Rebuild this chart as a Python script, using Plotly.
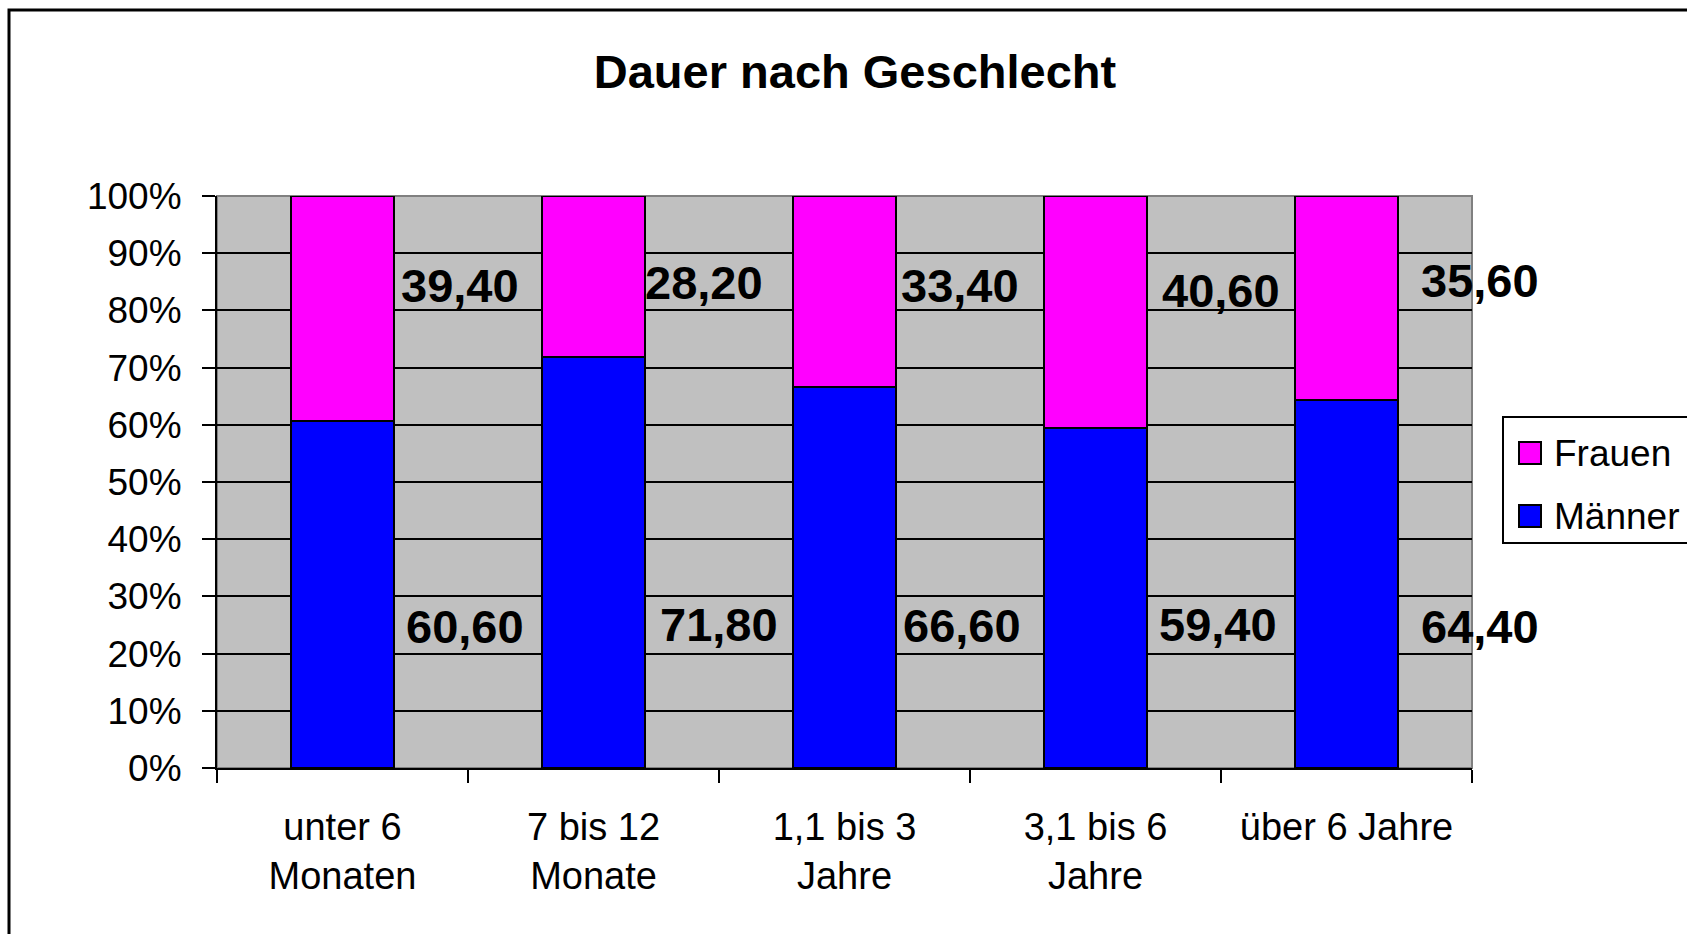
import plotly.graph_objects as go

categories = ["unter 6<br>Monaten", "7 bis 12<br>Monate", "1,1 bis 3<br>Jahre", "3,1 bis 6<br>Jahre", "über 6 Jahre"]
maenner = [60.6, 71.8, 66.6, 59.4, 64.4]
frauen = [39.4, 28.2, 33.4, 40.6, 35.6]
tick_vals = [0, 10, 20, 30, 40, 50, 60, 70, 80, 90, 100]
tick_text = [f"{v}%" for v in tick_vals]

# placement of the hand-positioned data labels (category offset, axis height)
frauen_lbl_dx = [0.47, 0.44, 0.46, 0.50, 0.53]
frauen_lbl_y = [84.4, 84.9, 84.4, 83.4, 85.2]
maenner_lbl_dx = [0.49, 0.50, 0.47, 0.49, 0.53]
maenner_lbl_y = [24.7, 25.1, 24.9, 25.1, 24.7]

W, H = 1687, 934
L, R, T, B = 217, 1472, 196, 768
pw, ph = R - L, B - T

def px_x(p):
    return (p - L) / pw

def px_y(p):
    return (B - p) / ph

FONT = "Liberation Sans, Arial, sans-serif"
n = len(categories)

fig = go.Figure()
fig.add_trace(go.Bar(x=categories, y=maenner, name="Männer", marker=dict(color="#0000FF", line=dict(color="black", width=2)), showlegend=False))
fig.add_trace(go.Bar(x=categories, y=frauen, name="Frauen", marker=dict(color="#FF00FF", line=dict(color="black", width=2)), showlegend=False))

def fmt(v):
    return f"{v:.2f}".replace(".", ",")

annotations = []
for i, (m, f) in enumerate(zip(maenner, frauen)):
    annotations.append(dict(x=(i + 0.5 + frauen_lbl_dx[i]) / n, y=frauen_lbl_y[i], xref="paper", yref="y", text=fmt(f), showarrow=False,
                            font=dict(family=FONT, size=47, color="black", weight="bold"), xanchor="center", yanchor="middle"))
    annotations.append(dict(x=(i + 0.5 + maenner_lbl_dx[i]) / n, y=maenner_lbl_y[i], xref="paper", yref="y", text=fmt(m), showarrow=False,
                            font=dict(family=FONT, size=47, color="black", weight="bold"), xanchor="center", yanchor="middle"))

# manual legend
leg_items = [("Frauen", "#FF00FF", 453), ("Männer", "#0000FF", 516)]
shapes = [
    dict(type="rect", xref="paper", yref="paper", x0=px_x(9), x1=px_x(1720), y0=px_y(10), y1=px_y(980),
         line=dict(color="black", width=3), layer="below"),
    dict(type="rect", xref="paper", yref="paper", x0=0, x1=1, y0=0, y1=1,
         line=dict(color="#808080", width=2), layer="below"),
    dict(type="rect", xref="paper", yref="paper", x0=px_x(1503), x1=px_x(1720), y0=px_y(417), y1=px_y(543),
         line=dict(color="black", width=2), fillcolor="white"),
]
for name, col, yc in leg_items:
    shapes.append(dict(type="rect", xref="paper", yref="paper", x0=px_x(1519), x1=px_x(1541),
                       y0=px_y(yc + 11), y1=px_y(yc - 11), line=dict(color="black", width=2), fillcolor=col))
    annotations.append(dict(x=px_x(1552), y=px_y(yc), xref="paper", yref="paper", text=name, showarrow=False,
                            xanchor="left", yanchor="middle", font=dict(family=FONT, size=37, color="black")))

fig.update_layout(
    width=W, height=H,
    margin=dict(l=L, r=W - R, t=T, b=H - B),
    paper_bgcolor="white", plot_bgcolor="#C0C0C0",
    barmode="stack", bargap=0.59,
    title=dict(text="<b>Dauer nach Geschlecht</b>", x=855 / W, xanchor="center", y=1 - 72 / H, yanchor="middle",
               font=dict(family=FONT, size=47, color="black")),
    font=dict(family=FONT, color="black"),
    xaxis=dict(type="category", range=[-0.5, n - 0.5], autorange=False,
               showline=True, linecolor="black", linewidth=2, ticks="outside", tickson="boundaries",
               ticklen=13, tickcolor="black", tickwidth=2, showgrid=False, ticklabelstandoff=24,
               tickfont=dict(family=FONT, size=38, color="black")),
    yaxis=dict(range=[0, 100], autorange=False, tickvals=tick_vals, ticktext=tick_text, showline=True, linecolor="black", linewidth=2,
               ticks="outside", ticklen=13, tickcolor="black", tickwidth=2, showgrid=True, gridcolor="black", gridwidth=2,
               zeroline=False, ticklabelstandoff=13, tickfont=dict(family=FONT, size=37, color="black")),
    shapes=shapes, annotations=annotations, showlegend=False,
)

fig.write_html("out.html", config={"displayModeBar": False},
               post_script="document.body.style.margin='0px';document.body.style.overflow='hidden';")
